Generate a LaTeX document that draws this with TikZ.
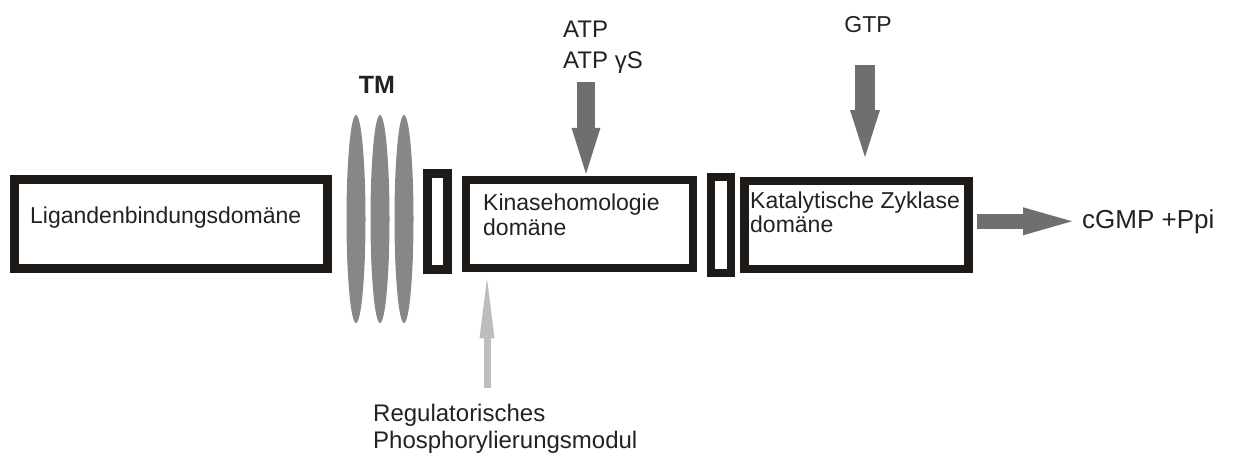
\documentclass[tikz,border=0pt]{standalone}
\usepackage{fontspec}
\setmainfont{Liberation Sans}
\usetikzlibrary{shapes.geometric,arrows.meta}

\definecolor{boxline}{HTML}{1E1A18}
\definecolor{tmgray}{HTML}{878787}
\definecolor{fatgray}{HTML}{6F6F6F}
\definecolor{reggray}{HTML}{BDBDBD}
\definecolor{txt}{HTML}{222222}

\begin{document}
\begin{tikzpicture}[
  x=1pt, y=-1pt,
  every node/.style={inner sep=0pt, text=txt},
  domainbox/.style={draw=boxline, line width=8.5pt, fill=white},
  tmbar/.style={ellipse, fill=tmgray, minimum width=19pt, minimum height=208pt},
  boxtext/.style={anchor=base west, align=left, font=\fontsize{23}{25}\selectfont},
  fatarrow/.style={draw=fatgray, line width=18pt,
    -{Triangle[length=46pt,width=29pt,line width=0pt]}},
  regarrow/.style={draw=reggray, line width=7pt,
    -{Triangle[length=60pt,width=15pt,line width=0pt]}},
  ]
  \useasboundingbox (0,0) rectangle (1233,455);

  % domains and membrane
  \node[domainbox, minimum width=313pt, minimum height=89pt] (lig) at (171,224) {};
  \foreach \i/\x in {1/356,2/380,3/404}
    \node[tmbar] (tm\i) at (\x,219) {};
  \node[font=\fontsize{25}{25}\selectfont\bfseries, anchor=base] (tmlab) at (377,93) {TM};
  \node[domainbox, minimum width=20pt, minimum height=96pt] (link1) at (437.5,221.5) {};
  \node[domainbox, minimum width=227pt, minimum height=88pt] (kin) at (579.5,224) {};
  \node[domainbox, minimum width=20pt, minimum height=96pt] (link2) at (721,225) {};
  \node[domainbox, minimum width=224pt, minimum height=88pt] (kat) at (856.5,225) {};

  % texts (base = last line)
  \node[boxtext] (ligtxt) at (30,223) {Ligandenbindungsdomäne};
  \node[boxtext] (kintxt) at (483,235) {Kinasehomologie\\domäne};
  \node[boxtext, font=\fontsize{23}{24}\selectfont] (kattxt) at (750,232) {Katalytische Zyklase\\domäne};
  \node[boxtext, font=\fontsize{24}{31}\selectfont] (atp) at (563,68) {ATP\\ATP γS};
  \node[boxtext, font=\fontsize{23}{23}\selectfont, anchor=base] (gtp) at (868,32) {GTP};
  \node[boxtext, font=\fontsize{26}{26}\selectfont] (cgmp) at (1082,228) {cGMP +Ppi};
  \node[boxtext, font=\fontsize{24}{27}\selectfont] (reg) at (373,448) {Regulatorisches\\Phosphorylierungsmodul};

  % arrows
  \coordinate (atpin) at (586,82);
  \coordinate (gtpin) at (865,65);
  \coordinate (gtpout) at (865,157);
  \coordinate (regin) at (487,388);
  \draw[fatarrow] (atpin) -- ([yshift=2pt]atpin |- kin.north);
  \draw[fatarrow, line width=20pt,
    -{Triangle[length=47pt,width=30pt,line width=0pt]}] (gtpin) -- (gtpout);
  \draw[fatarrow, line width=15pt,
    -{Triangle[length=49pt,width=28pt,line width=0pt]}]
    ([xshift=4pt]kat.east |- cgmp.west) -- ([xshift=-10pt]cgmp.west);
  \draw[regarrow] (regin) -- ([yshift=-6pt]regin |- kin.south);
\end{tikzpicture}
\end{document}
